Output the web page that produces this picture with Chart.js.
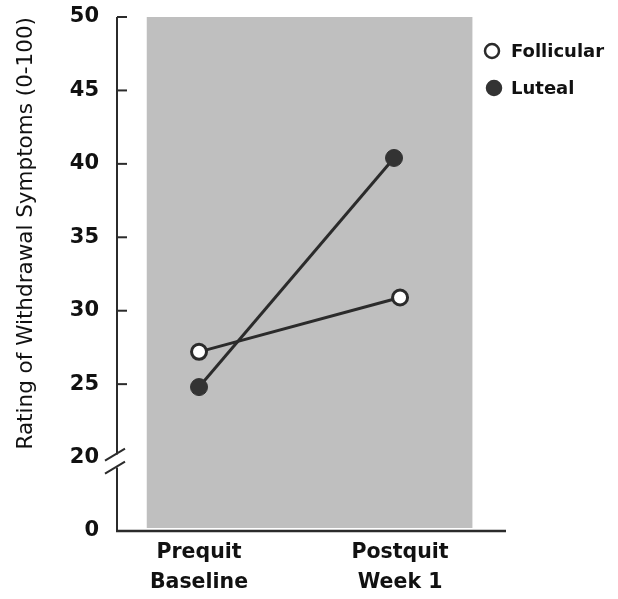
<!DOCTYPE html>
<html>
<head>
<meta charset="utf-8">
<script src="https://cdn.jsdelivr.net/npm/chart.js@4.4.1/dist/chart.umd.min.js"></script>
<style>
  html, body { margin: 0; padding: 0; background: #fff; }
  #wrap { width: 618px; height: 599px; }
</style>
</head>
<body>
<div id="wrap"><canvas id="chart"></canvas></div>
<script>
// data
const phases = [['Prequit', 'Baseline'], ['Postquit', 'Week 1']];
const phaseX = [0, 1];
const follicular = [27.2, 30.9];
const lutealX = [0, 0.97];
const luteal = [24.8, 40.4];
// the axis is broken: 15 on the scale stands for the "0" label
const yTicks = [15, 20, 25, 30, 35, 40, 45, 50];
const yTickLabels = ['0', '20', '25', '30', '35', '40', '45', '50'];

const INK = '#2b2b2b';
const FONT = "'DejaVu Sans', sans-serif";

// grey panel behind the points
const panel = {
  id: 'panel',
  beforeDatasetsDraw(chart) {
    const { ctx, scales: { x, y }, chartArea } = chart;
    const l = x.getPixelForValue(-0.26), r = x.getPixelForValue(1.36);
    const t = y.getPixelForValue(50), b = chartArea.bottom - 3;
    ctx.save();
    ctx.fillStyle = '#bfbfbf';
    ctx.fillRect(l, t, r - l, b - t);
    ctx.restore();
  }
};

// axis lines, inward ticks and the // break
const axes = {
  id: 'axes',
  afterDraw(chart) {
    const { ctx, scales: { x, y }, chartArea } = chart;
    const ax = chartArea.left, bottom = chartArea.bottom;
    const gapTop = y.getPixelForValue(20) - 3, gapBot = y.getPixelForValue(20) + 10;
    ctx.save();
    ctx.strokeStyle = INK;
    ctx.lineWidth = 2;
    ctx.beginPath();
    ctx.moveTo(ax, y.getPixelForValue(50));
    ctx.lineTo(ax, gapTop);
    ctx.moveTo(ax, gapBot);
    ctx.lineTo(ax, bottom);
    ctx.stroke();
    // ticks inside the axis
    y.ticks.forEach(t => {
      if (t.value <= 20) return;
      const py = y.getPixelForValue(t.value);
      ctx.beginPath();
      ctx.moveTo(ax, py);
      ctx.lineTo(ax + 10, py);
      ctx.stroke();
    });
    // break slashes
    [gapTop, gapBot].forEach(py => {
      ctx.beginPath();
      ctx.moveTo(ax - 12, py + 6);
      ctx.lineTo(ax + 8, py - 6);
      ctx.stroke();
    });
    // x axis
    ctx.lineWidth = 2.5;
    ctx.beginPath();
    ctx.moveTo(ax - 1, bottom);
    ctx.lineTo(chartArea.right, bottom);
    ctx.stroke();
    ctx.restore();
  }
};

// legend at the top right
const legendBox = {
  id: 'legendBox',
  afterDraw(chart) {
    const { ctx } = chart;
    ctx.save();
    ctx.font = "bold 18px " + FONT;
    ctx.textBaseline = 'middle';
    chart.data.datasets.forEach((ds, i) => {
      const cy = 51 + i * 37, cx = 492 + i * 2;
      ctx.beginPath();
      ctx.arc(cx, cy, 7, 0, Math.PI * 2);
      ctx.fillStyle = ds.pointBackgroundColor;
      ctx.fill();
      ctx.lineWidth = 2.5;
      ctx.strokeStyle = ds.pointBorderColor;
      ctx.stroke();
      ctx.fillStyle = '#111';
      ctx.fillText(ds.label, 511, cy + 1);
    });
    ctx.restore();
  }
};

new Chart(document.getElementById('chart'), {
  type: 'line',
  data: {
    datasets: [{
      label: 'Follicular',
      data: phaseX.map((v, i) => ({ x: v, y: follicular[i] })),
      borderColor: INK,
      borderWidth: 3,
      pointRadius: 7.5,
      pointBorderWidth: 3,
      pointBackgroundColor: '#ffffff',
      pointBorderColor: INK
    }, {
      label: 'Luteal',
      data: lutealX.map((v, i) => ({ x: v, y: luteal[i] })),
      borderColor: INK,
      borderWidth: 3,
      pointRadius: 8.5,
      pointBorderWidth: 1,
      pointBackgroundColor: '#333333',
      pointBorderColor: '#333333'
    }]
  },
  options: {
    responsive: true,
    maintainAspectRatio: false,
    animation: false,
    layout: { padding: { left: 0, right: 112, top: 17, bottom: 0 } },
    plugins: {
      legend: { display: false },
      tooltip: { enabled: false }
    },
    scales: {
      x: {
        type: 'linear',
        min: -0.408,
        max: 1.527,
        grid: { display: false, drawTicks: false },
        border: { display: false },
        afterBuildTicks: s => { s.ticks = phaseX.map(v => ({ value: v })); },
        afterFit: s => { s.height = 68; },
        ticks: {
          padding: 6,
          color: '#111',
          font: { family: FONT, size: 20.5, weight: 'bold', lineHeight: 1.5 },
          callback: v => phases[phaseX.indexOf(v)] || ''
        }
      },
      y: {
        type: 'linear',
        min: 15,
        max: 50,
        grid: { display: false, drawTicks: false },
        border: { display: false },
        afterBuildTicks: s => { s.ticks = yTicks.map(v => ({ value: v })); },
        afterFit: s => { s.width = 117; s.paddingTop = 0; s.paddingBottom = 0; },
        ticks: {
          padding: 18,
          color: '#111',
          font: { family: FONT, size: 21, weight: 'bold' },
          callback: v => yTickLabels[yTicks.indexOf(v)]
        },
        title: {
          display: true,
          align: 'end',
          text: 'Rating of Withdrawal Symptoms (0-100)',
          color: '#111',
          font: { family: FONT, size: 21.5 },
          padding: { top: 14, bottom: 4 }
        }
      }
    }
  },
  plugins: [panel, axes, legendBox]
});
</script>
</body>
</html>
